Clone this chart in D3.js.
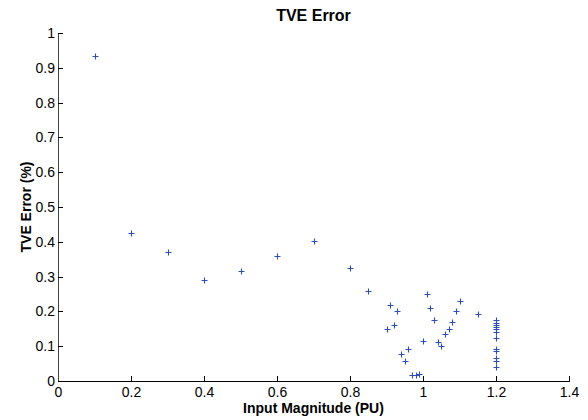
<!DOCTYPE html>
<html>
<head>
<meta charset="utf-8">
<script src="https://cdn.jsdelivr.net/npm/d3@7/dist/d3.min.js"></script>
<style>
  html, body { margin: 0; padding: 0; background: #fff; }
  svg { display: block; font-family: "Liberation Sans", Arial, sans-serif; }
</style>
</head>
<body>
<svg id="chart" width="588" height="420"></svg>
<script>
const xValues = [0.1, 0.2, 0.3, 0.4, 0.5, 0.6, 0.7, 0.8, 0.85,
  0.90, 0.91, 0.92, 0.93, 0.94, 0.95, 0.96, 0.97, 0.98, 0.99,
  1.00, 1.01, 1.02, 1.03, 1.04, 1.05, 1.06, 1.07, 1.08, 1.09, 1.10, 1.15,
  1.2, 1.2, 1.2, 1.2, 1.2, 1.2, 1.2, 1.2, 1.2, 1.2, 1.2, 1.2];
const tveError = [0.933, 0.424, 0.372, 0.290, 0.316, 0.358, 0.403, 0.325, 0.258,
  0.149, 0.217, 0.161, 0.200, 0.079, 0.058, 0.093, 0.018, 0.017, 0.019,
  0.114, 0.251, 0.210, 0.174, 0.113, 0.102, 0.134, 0.150, 0.169, 0.200, 0.230, 0.192,
  0.174, 0.168, 0.162, 0.155, 0.150, 0.141, 0.124, 0.093, 0.086, 0.066, 0.058, 0.041];
const xTicks = [0, 0.2, 0.4, 0.6, 0.8, 1, 1.2, 1.4];
const xTickLabels = ["0", "0.2", "0.4", "0.6", "0.8", "1", "1.2", "1.4"];
const yTicks = [0, 0.1, 0.2, 0.3, 0.4, 0.5, 0.6, 0.7, 0.8, 0.9, 1];
const yTickLabels = ["0", "0.1", "0.2", "0.3", "0.4", "0.5", "0.6", "0.7", "0.8", "0.9", "1"];
const titleText = "TVE Error";
const xLabelText = "Input Magnitude (PU)";
const yLabelText = "TVE Error (%)";

(function () {
const svg = d3.select("#chart");
const mLeft = 58, mRight = 569, mTop = 33, mBottom = 381;
const x = d3.scaleLinear().domain([0, 1.4]).range([mLeft, mRight]);
const y = d3.scaleLinear().domain([0, 1]).range([mBottom, mTop]);

// X axis
const gx = svg.append("g").attr("transform", `translate(0,${mBottom})`)
  .call(d3.axisBottom(x).tickValues(xTicks).tickFormat((d, i) => xTickLabels[i]).tickSizeInner(-5).tickSizeOuter(0).tickPadding(6));
gx.select(".domain").attr("stroke", "#000").attr("shape-rendering", "crispEdges");
gx.selectAll(".tick line").attr("stroke", "#000").attr("shape-rendering", "crispEdges");
gx.selectAll("text").attr("font-size", 14).attr("fill", "#000").attr("font-family", "Liberation Sans, Arial, sans-serif");

// Y axis
const gy = svg.append("g").attr("transform", `translate(${mLeft},0)`)
  .call(d3.axisLeft(y).tickValues(yTicks).tickFormat((d, i) => yTickLabels[i]).tickSizeInner(-5).tickSizeOuter(0).tickPadding(3));
gy.select(".domain").attr("stroke", "#444").attr("shape-rendering", "crispEdges");
gy.selectAll(".tick line").attr("stroke", "#000").attr("shape-rendering", "crispEdges");
gy.selectAll("text").attr("font-size", 14).attr("fill", "#000").attr("font-family", "Liberation Sans, Arial, sans-serif");

// Points
const data = xValues.map((v, i) => ({ x: v, y: tveError[i] }));
svg.append("g").selectAll("path").data(data).enter().append("path")
  .attr("transform", d => `translate(${Math.round(x(d.x)) + 0.5},${Math.round(y(d.y)) + 0.5})`)
  .attr("d", "M-3,0H3M0,-3V3")
  .attr("stroke", "#2a4fb5").attr("stroke-width", 1.1).attr("fill", "none");

// Title and labels
svg.append("text").attr("x", (mLeft + mRight) / 2).attr("y", 21)
  .attr("text-anchor", "middle").attr("font-size", 16).attr("font-weight", "bold").text(titleText);
svg.append("text").attr("x", (mLeft + mRight) / 2).attr("y", 413)
  .attr("text-anchor", "middle").attr("font-size", 14).attr("font-weight", "bold").text(xLabelText);
svg.append("text").attr("transform", `translate(31,${(mTop + mBottom) / 2}) rotate(-90)`)
  .attr("text-anchor", "middle").attr("font-size", 14).attr("font-weight", "bold").text(yLabelText);
})();
</script>
</body>
</html>
